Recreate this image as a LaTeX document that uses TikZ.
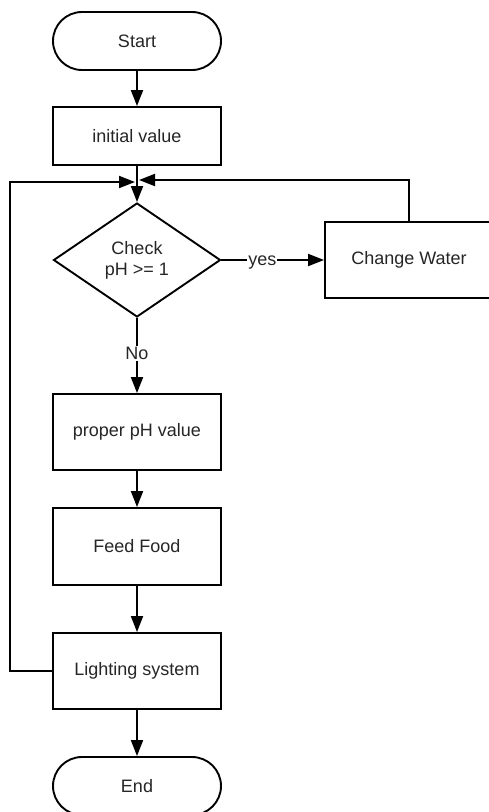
\documentclass[tikz,border=0pt]{standalone}
\usepackage{fontspec}
\setmainfont{Liberation Sans}
\usetikzlibrary{shapes.geometric,arrows.meta}
\begin{document}
\begin{tikzpicture}[x=1pt,y=-1pt,
  every node/.style={font=\fontsize{18}{21}\selectfont, text=black!85},
  base/.style={draw=black, line width=1.9pt},
  procbox/.style={base, rectangle, minimum width=168pt, inner sep=0pt},
  termbox/.style={base, rectangle, rounded corners=29pt, minimum width=168pt, minimum height=58pt, inner sep=0pt},
  decbox/.style={base, diamond, minimum width=167pt, minimum height=114pt, aspect=1.46, inner sep=0pt, align=center},
  arr/.style={line width=1.9pt, -{Triangle[length=16pt,width=12pt]}},
  lbl/.style={fill=white, inner sep=1pt}
]
\clip (0,0) rectangle (489,812);
\fill[white] (0,0) rectangle (489,812);

\node[termbox] (start) at (137,41) {Start};
\node[procbox, minimum height=58pt] (init) at (137,136) {initial value};
\node[decbox] (dia) at (137,260) {Check\\pH >= 1};
\node[procbox, minimum height=76pt] (cw) at (409,260) {Change Water};
\node[procbox, minimum height=76pt] (prop) at (137,432) {proper pH value};
\node[procbox, minimum height=77pt] (feed) at (137,546.5) {Feed Food};
\node[procbox, minimum height=76pt] (light) at (137,671) {Lighting system};
\node[termbox] (end) at (137,786) {End};

\coordinate (jl) at (135,182);
\coordinate (jr) at (139,180);
\coordinate (lcorner) at (10,182);

\draw[arr] (start) -- (init);
\draw[arr] (init) -- (dia);
\draw[arr] (dia) -- node[lbl, pos=0.4, yshift=-3pt] {yes} (cw);
\draw[arr] (dia) -- node[lbl, pos=0.47] {No} (prop);
\draw[arr] (prop) -- (feed);
\draw[arr] (feed) -- (light);
\draw[arr] (light) -- (end);
\draw[arr] (light.west) -| (lcorner) -- (jl);
\draw[arr] (cw.north) |- (jr);
\end{tikzpicture}
\end{document}
